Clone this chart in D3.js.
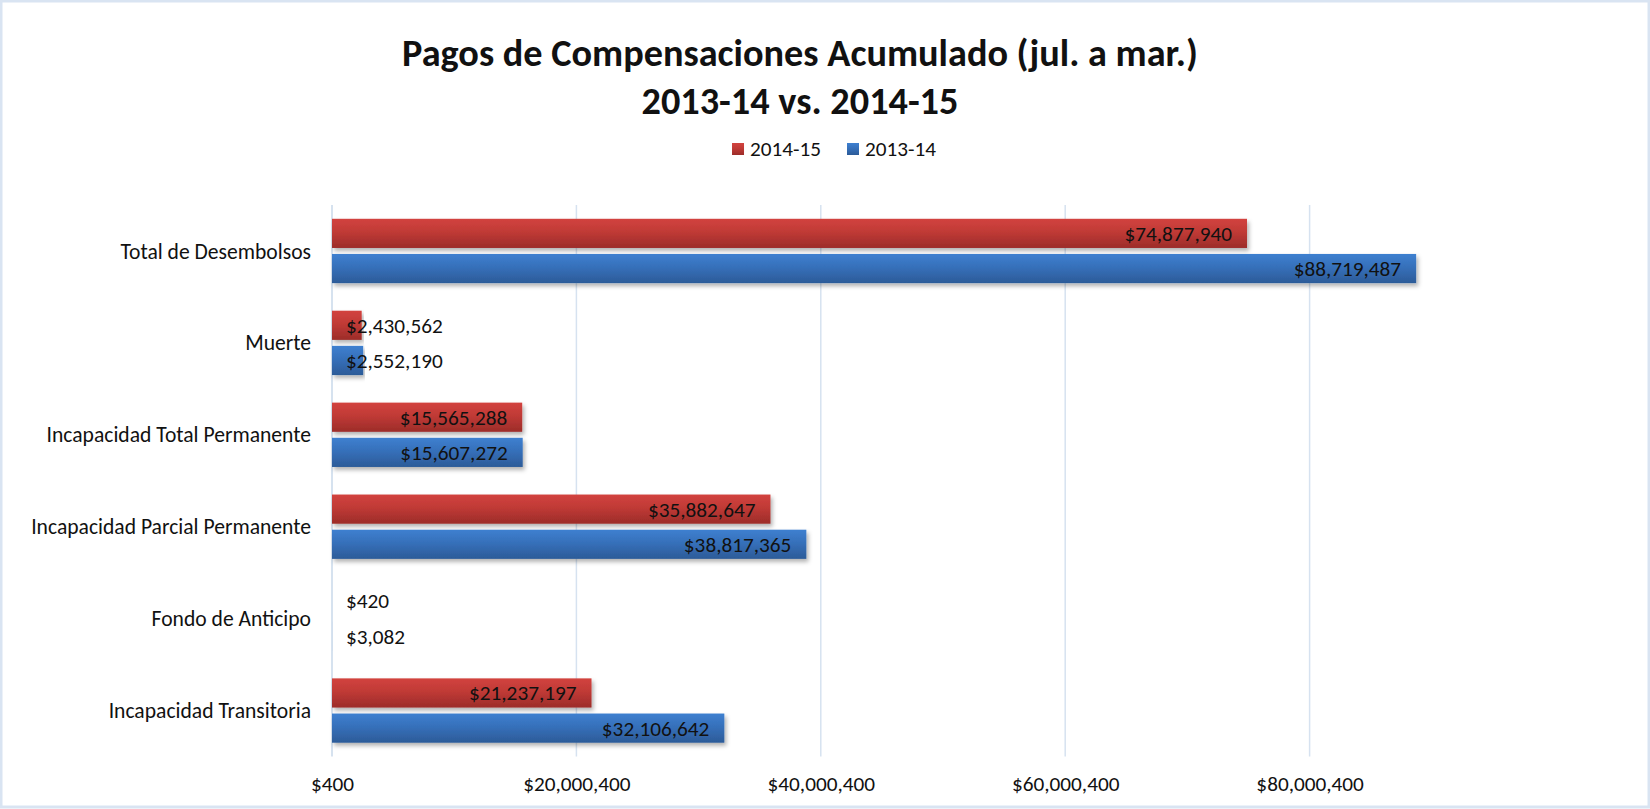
<!DOCTYPE html>
<html>
<head>
<meta charset="utf-8">
<script src="https://cdn.jsdelivr.net/npm/d3@7"></script>
<style>
  html, body { margin: 0; padding: 0; background: #fff; }
  svg { display: block; }
  text { font-family: Calibri, Carlito, Lato, sans-serif; fill: #111; }
</style>
</head>
<body>
<div id="chart"></div>
<script>
// chart data
const categories = [
  'Total de Desembolsos',
  'Muerte',
  'Incapacidad Total Permanente',
  'Incapacidad Parcial Permanente',
  'Fondo de Anticipo',
  'Incapacidad Transitoria'
];
const seriesNames = ['2014-15', '2013-14'];
const values1415 = [74877940, 2430562, 15565288, 35882647, 420, 21237197];
const values1314 = [88719487, 2552190, 15607272, 38817365, 3082, 32106642];
const tickValues = [400, 20000400, 40000400, 60000400, 80000400];
const titleLines = ['Pagos de Compensaciones Acumulado (jul. a mar.)', '2013-14 vs. 2014-15'];

const WIDTH = 1650;
const HEIGHT = 809;

const svg = d3.select('#chart')
  .append('svg')
  .attr('width', WIDTH)
  .attr('height', HEIGHT);

// pick a font size so that a sample string has the wanted width
function fitSize(sample, weight, targetWidth) {
  const t = svg.append('text')
    .attr('font-size', 100)
    .attr('font-weight', weight)
    .text(sample);
  const w = t.node().getComputedTextLength();
  t.remove();
  return 100 * targetWidth / w;
}

const catSize = fitSize('Incapacidad Parcial Permanente', 'normal', 280);
const numSize = fitSize('$80,000,400', 'normal', 107.5);
const titleSize = fitSize(titleLines[0], 'bold', 796);
const legendSize = fitSize('2014-15', 'normal', 71);

const defs = svg.append('defs');

const gradients = [
  { id: 'grad-red', stops: ['#d2433f', '#c03a36', '#9c2c29'] },
  { id: 'grad-blue', stops: ['#3e80d0', '#3670ba', '#2c5b98'] }
];
gradients.forEach(g => {
  const lg = defs.append('linearGradient')
    .attr('id', g.id)
    .attr('x1', 0).attr('y1', 0)
    .attr('x2', 0).attr('y2', 1);
  lg.append('stop').attr('offset', '0%').attr('stop-color', g.stops[0]);
  lg.append('stop').attr('offset', '45%').attr('stop-color', g.stops[1]);
  lg.append('stop').attr('offset', '100%').attr('stop-color', g.stops[2]);
});

defs.append('filter')
  .attr('id', 'shadow')
  .attr('x', '-5%').attr('y', '-20%')
  .attr('width', '110%').attr('height', '160%')
  .append('feDropShadow')
  .attr('dx', 2).attr('dy', 3)
  .attr('stdDeviation', 2)
  .attr('flood-color', '#000')
  .attr('flood-opacity', 0.3);

// outer border
svg.append('rect')
  .attr('x', 1).attr('y', 1)
  .attr('width', WIDTH - 2).attr('height', HEIGHT - 3)
  .attr('fill', 'none')
  .attr('stroke', '#d9e4f2')
  .attr('stroke-width', 3);

// title
svg.append('g')
  .selectAll('text')
  .data(titleLines)
  .enter()
  .append('text')
  .attr('x', 800)
  .attr('y', (d, i) => 66 + i * 48)
  .attr('text-anchor', 'middle')
  .attr('font-weight', 'bold')
  .attr('font-size', titleSize)
  .text(d => d);

// legend
const legendColors = ['url(#grad-red)', 'url(#grad-blue)'];
const legend = svg.append('g');
let lx = 0;
seriesNames.forEach((name, i) => {
  const item = legend.append('g').attr('transform', `translate(${lx},0)`);
  item.append('rect')
    .attr('x', 0).attr('y', 143)
    .attr('width', 12).attr('height', 12)
    .attr('fill', legendColors[i]);
  const t = item.append('text')
    .attr('x', 18).attr('y', 156)
    .attr('font-size', legendSize)
    .text(name);
  lx += 18 + t.node().getComputedTextLength() + 26;
});
const legendWidth = lx - 26;
legend.attr('transform', `translate(${834 - legendWidth / 2},0)`);

// plot area
const margin = { top: 205, left: 332 };
const plotBottom = 756.5;

const x = d3.scaleLinear()
  .domain([400, 80000400])
  .range([margin.left, margin.left + 4 * 244.4]);

const y = d3.scaleBand()
  .domain(categories)
  .range([margin.top, plotBottom])
  .paddingInner(0.3)
  .paddingOuter(0.15);

const ySub = d3.scaleBand()
  .domain(seriesNames)
  .range([0, y.bandwidth()])
  .paddingInner(0.17);

// gridlines
svg.append('g')
  .selectAll('line')
  .data(tickValues)
  .enter()
  .append('line')
  .attr('x1', d => x(d)).attr('x2', d => x(d))
  .attr('y1', margin.top).attr('y2', plotBottom)
  .attr('stroke', d => (d === tickValues[0] ? '#c9d8ea' : '#d6e2f0'))
  .attr('stroke-width', 1.5);

// x axis labels
const xAxis = svg.append('g')
  .attr('transform', 'translate(0,' + plotBottom + ')')
  .call(
    d3.axisBottom(x)
      .tickValues(tickValues)
      .tickSize(0)
      .tickPadding(0)
      .tickFormat(d => '$' + d3.format(',')(d))
  );
xAxis.select('.domain').remove();
xAxis.selectAll('text')
  .attr('y', 34)
  .attr('dy', null)
  .attr('fill', '#111')
  .attr('font-size', numSize)
  .attr('font-family', null);

// category labels
svg.append('g')
  .selectAll('text')
  .data(categories)
  .enter()
  .append('text')
  .attr('x', 311)
  .attr('y', d => y(d) + y.bandwidth() / 2)
  .attr('dy', '0.35em')
  .attr('text-anchor', 'end')
  .attr('font-size', catSize)
  .text(d => d);

// bars
const rows = categories.map((c, i) => ({
  category: c,
  values: [
    { series: seriesNames[0], value: values1415[i], fill: 'url(#grad-red)' },
    { series: seriesNames[1], value: values1314[i], fill: 'url(#grad-blue)' }
  ]
}));

const groups = svg.append('g')
  .selectAll('g')
  .data(rows)
  .enter()
  .append('g')
  .attr('transform', d => `translate(0,${y(d.category)})`);

groups.selectAll('rect')
  .data(d => d.values)
  .enter()
  .append('rect')
  .attr('x', x(400))
  .attr('y', d => ySub(d.series))
  .attr('width', d => Math.max(0, x(d.value) - x(400)))
  .attr('height', ySub.bandwidth())
  .attr('fill', d => d.fill)
  .attr('filter', d => (x(d.value) - x(400) > 1 ? 'url(#shadow)' : null));

// value labels: inside end, pushed right when the bar is too short
groups.selectAll('text')
  .data(d => d.values)
  .enter()
  .append('text')
  .attr('y', d => ySub(d.series) + ySub.bandwidth() / 2)
  .attr('dy', '0.35em')
  .attr('text-anchor', 'end')
  .attr('font-size', numSize)
  .text(d => '$' + d3.format(',')(d.value))
  .attr('x', function (d) {
    const w = this.getComputedTextLength();
    return Math.max(x(d.value) - 15, x(400) + 14 + w);
  });
</script>
</body>
</html>
